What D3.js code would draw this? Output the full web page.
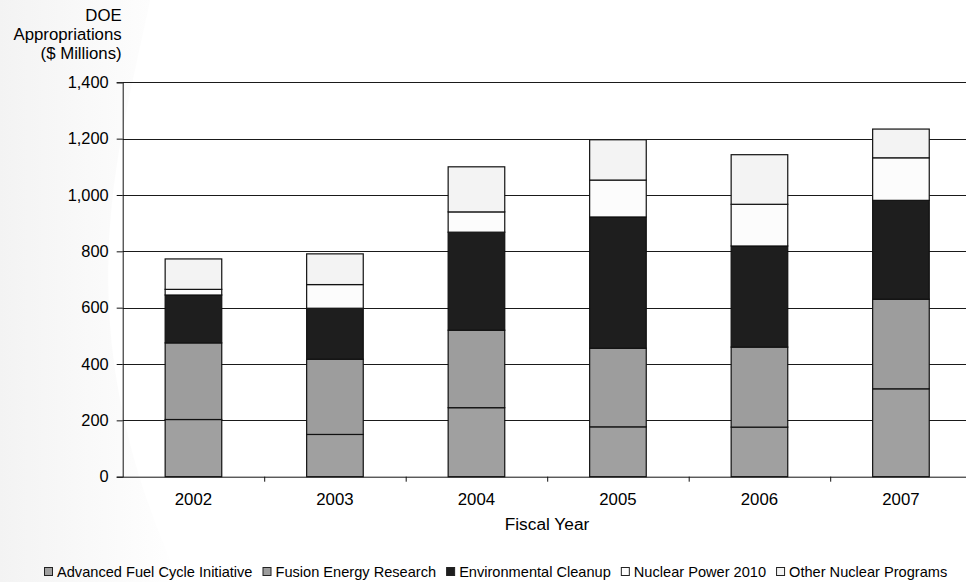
<!DOCTYPE html>
<html>
<head>
<meta charset="utf-8">
<script src="https://cdn.jsdelivr.net/npm/d3@7"></script>
<style>
  html, body { margin: 0; padding: 0; background: #fff; }
  svg { display: block; font-family: "Liberation Sans", Arial, sans-serif; }
</style>
</head>
<body>
<svg id="chart" width="966" height="582"></svg>
<script>
// ---- data ----
const years = ["2002", "2003", "2004", "2005", "2006", "2007"];
const seriesNames = ["Advanced Fuel Cycle Initiative", "Fusion Energy Research", "Environmental Cleanup", "Nuclear Power 2010", "Other Nuclear Programs"];
const advancedFuelCycle = [203, 150, 245, 177, 176, 312];
const fusionEnergy      = [272, 267, 275, 279, 284, 318];
const environmentalCleanup = [170, 181, 348, 466, 359, 351];
const nuclearPower2010  = [20, 84, 72, 131, 148, 151];
const otherNuclear      = [108, 109, 160, 143, 176, 102];
const yTicks = [0, 200, 400, 600, 800, 1000, 1200, 1400];
const seriesColors = ["#a0a0a0", "#9d9d9d", "#1e1e1e", "#fcfcfc", "#f3f3f3"];

const seriesValues = [advancedFuelCycle, fusionEnergy, environmentalCleanup, nuclearPower2010, otherNuclear];
const table = years.map((yr, i) => {
  const row = { year: yr };
  seriesNames.forEach((s, k) => row[s] = seriesValues[k][i]);
  return row;
});

const svg = d3.select("#chart");

// faint background swoosh
const defs = svg.append("defs");
const grad = defs.append("linearGradient").attr("id", "bg").attr("x1", "0").attr("y1", "0").attr("x2", "1").attr("y2", "0");
grad.append("stop").attr("offset", "0").attr("stop-color", "#eeeeee");
grad.append("stop").attr("offset", "1").attr("stop-color", "#ffffff");
svg.append("path")
  .attr("d", "M0,0 L150,0 C120,150 60,320 180,582 L0,582 Z")
  .attr("fill", "url(#bg)").attr("opacity", 0.7);

const pLeft = 122.7, pRight = 971.7, pTop = 82.3, pBottom = 476.7;

const x = d3.scaleBand().domain(years).range([pLeft, pRight]).padding(0);
const y = d3.scaleLinear().domain([0, 1400]).range([pBottom, pTop]);
const barW = x.bandwidth() * 0.4;

// gridlines
svg.append("g").selectAll("line").data(yTicks.filter(t => t > 0)).join("line")
  .attr("x1", pLeft).attr("x2", 966)
  .attr("y1", d => Math.round(y(d)) + 0.5).attr("y2", d => Math.round(y(d)) + 0.5)
  .attr("stroke", "#1a1a1a").attr("stroke-width", 1);

// stacked bars
const stack = d3.stack().keys(seriesNames)(table);
const gBars = svg.append("g");
stack.forEach((layer, k) => {
  gBars.append("g").selectAll("rect").data(layer).join("rect")
    .attr("x", d => x(d.data.year) + (x.bandwidth() - barW) / 2)
    .attr("width", barW)
    .attr("y", d => y(d[1]))
    .attr("height", d => y(d[0]) - y(d[1]))
    .attr("fill", seriesColors[k])
    .attr("stroke", "#111")
    .attr("stroke-width", 1.2);
});

// y axis
const yAxis = svg.append("g").attr("transform", `translate(${pLeft},0)`)
  .call(d3.axisLeft(y).tickValues(yTicks).tickSize(6).tickPadding(8).tickFormat(d3.format(",")));
yAxis.select(".domain").attr("stroke", "#111");
yAxis.selectAll(".tick line").attr("stroke", "#111");
yAxis.selectAll("text").attr("font-size", "16.4px").attr("fill", "#000")
  .attr("font-family", "Liberation Sans, Arial, sans-serif");

// x axis
const xAxis = svg.append("g").attr("transform", `translate(0,${pBottom})`)
  .call(d3.axisBottom(x).tickSize(0).tickPadding(16));
xAxis.select(".domain").attr("stroke", "#111").attr("d", `M${pLeft},0.5H966`);
xAxis.selectAll("text").attr("font-size", "16.8px").attr("fill", "#000")
  .attr("font-family", "Liberation Sans, Arial, sans-serif");
// boundary ticks between categories
svg.append("g").selectAll("line").data(years.slice(1)).join("line")
  .attr("x1", d => x(d) + 0.5).attr("x2", d => x(d) + 0.5)
  .attr("y1", pBottom).attr("y2", pBottom + 5)
  .attr("stroke", "#111");

// y title
const yTitle = ["DOE", "Appropriations", "($ Millions)"];
svg.append("g").selectAll("text").data(yTitle).join("text")
  .attr("x", 121.7).attr("y", (d, i) => 20.7 + i * 19.3)
  .attr("text-anchor", "end").attr("font-size", "16.8px").attr("fill", "#000")
  .text(d => d);

// x title
svg.append("text").attr("x", 547).attr("y", 530).attr("text-anchor", "middle")
  .attr("font-size", "17.3px").attr("fill", "#000").text("Fiscal Year");

// legend
const legend = svg.append("g");
let lx = 44;
seriesNames.forEach((s, k) => {
  const g = legend.append("g");
  g.append("rect").attr("x", lx + 0.5).attr("y", 567.5).attr("width", 8).attr("height", 8)
    .attr("fill", seriesColors[k]).attr("stroke", "#222").attr("stroke-width", 1);
  const t = g.append("text").attr("x", lx + 13).attr("y", 577)
    .attr("font-size", "14.6px").attr("fill", "#000").text(s);
  lx = lx + 13 + t.node().getComputedTextLength() + 10;
});
</script>
</body>
</html>
